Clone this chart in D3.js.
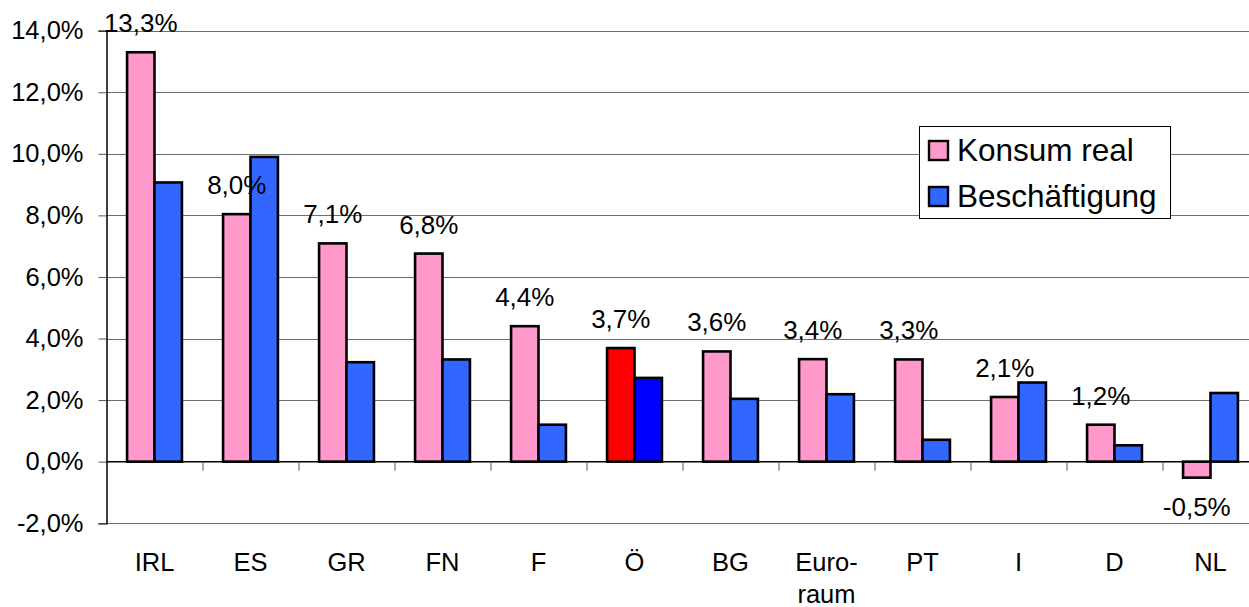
<!DOCTYPE html>
<html>
<head>
<meta charset="utf-8">
<script src="https://cdn.jsdelivr.net/npm/d3@7"></script>
<style>
  body { margin: 0; background: #fff; }
  svg { display: block; font-family: "Liberation Sans", Arial, sans-serif; }
</style>
</head>
<body>
<svg id="plot1" width="1249" height="607"></svg>
<script>
var laender = ['IRL', 'ES', 'GR', 'FN', 'F', 'Ö', 'BG', 'Euro-\nraum', 'PT', 'I', 'D', 'NL'];
var konsum = [13.3, 8.0, 7.1, 6.8, 4.4, 3.7, 3.6, 3.4, 3.3, 2.1, 1.2, -0.5];
var konsumBalken = [13.3, 8.04, 7.09, 6.76, 4.4, 3.69, 3.58, 3.33, 3.32, 2.1, 1.2, -0.52];
var beschaeftigung = [9.07, 9.9, 3.23, 3.32, 1.2, 2.72, 2.04, 2.19, 0.71, 2.57, 0.53, 2.23];
var yTicks = [-2, 0, 2, 4, 6, 8, 10, 12, 14];
var serien = ['Konsum real', 'Beschäftigung'];

var clrs = {'Konsum real': '#FF99CC', 'Beschäftigung': '#3366FF'};
var hervor = {'Konsum real': '#FF0000', 'Beschäftigung': '#0000FF'};

function init() {
    var left = 106.5, top = 30.7, bottom = 523.2;
    var catW = 96;

    var svg = d3.select('#plot1');
    var fmt = function(v) { return v.toFixed(1).replace('.', ',') + '%'; };

    var ys = d3.scaleLinear().domain([-2, 14]).range([bottom, top]);
    var xs = d3.scaleBand().domain(laender).range([left, left + catW * laender.length]).padding(0);
    var grp = catW * 2 / 3.5;
    var x1 = d3.scaleBand().domain(serien).range([(catW - grp) / 2, (catW + grp) / 2]);

    // gridlines
    svg.append('g').selectAll('line')
        .data(yTicks.filter(function(d) { return d != 0; }))
        .enter().append('line')
        .attr('x1', left).attr('x2', 1249)
        .attr('y1', function(d) { return Math.round(ys(d)) + 0.5; })
        .attr('y2', function(d) { return Math.round(ys(d)) + 0.5; })
        .attr('stroke', '#6e6e6e').attr('stroke-width', 1);

    // y axis
    var yAxis = d3.axisLeft(ys).tickValues(yTicks).tickSize(8).tickPadding(15).tickFormat(fmt);
    var ya = svg.append('g').attr('transform', 'translate(' + left + ',0)').call(yAxis);
    ya.select('.domain').attr('stroke', '#000').attr('stroke-width', 1.5);
    ya.selectAll('.tick line').attr('stroke', '#555');
    ya.selectAll('text').attr('font-size', 25.5).attr('fill', '#000')
        .attr('font-family', '"Liberation Sans", Arial, sans-serif');

    // bars
    var rows = laender.map(function(l, i) {
        return [
            {land: l, s: 'Konsum real', v: konsumBalken[i], i: i},
            {land: l, s: 'Beschäftigung', v: beschaeftigung[i], i: i}
        ];
    });
    var g = svg.append('g');
    g.selectAll('g.cat').data(rows).enter().append('g')
        .attr('transform', function(d) { return 'translate(' + xs(d[0].land) + ',0)'; })
        .selectAll('rect').data(function(d) { return d; }).enter().append('rect')
        .attr('x', function(d) { return x1(d.s); })
        .attr('width', x1.bandwidth())
        .attr('y', function(d) { return ys(Math.max(0, d.v)); })
        .attr('height', function(d) { return Math.abs(ys(d.v) - ys(0)); })
        .attr('fill', function(d) { return d.land == 'Ö' ? hervor[d.s] : clrs[d.s]; })
        .attr('stroke', '#000').attr('stroke-width', 2.6);

    // zero line and x ticks
    svg.append('line').attr('x1', left).attr('x2', 1249)
        .attr('y1', ys(0)).attr('y2', ys(0)).attr('stroke', '#000').attr('stroke-width', 1.5);
    svg.append('g').selectAll('line').data(laender.slice(1)).enter().append('line')
        .attr('x1', function(d) { return xs(d) + 0.5; })
        .attr('x2', function(d) { return xs(d) + 0.5; })
        .attr('y1', ys(0)).attr('y2', ys(0) + 9)
        .attr('stroke', '#555').attr('stroke-width', 1);

    // data labels
    svg.append('g').selectAll('text').data(laender).enter().append('text')
        .attr('x', function(d) { return xs(d) + x1('Konsum real') + x1.bandwidth() / 2; })
        .attr('y', function(d, i) {
            var v = konsumBalken[i];
            return v >= 0 ? ys(v) - 20 : ys(v) + 38;
        })
        .attr('text-anchor', 'middle').attr('font-size', 26).attr('fill', '#000')
        .text(function(d, i) { return fmt(konsum[i]); });

    // category labels
    svg.append('g').selectAll('text').data(laender).enter().append('text')
        .attr('x', function(d) { return xs(d) + catW / 2; })
        .attr('y', 571)
        .attr('text-anchor', 'middle').attr('font-size', 25.5).attr('fill', '#000')
        .each(function(d) {
            var t = d3.select(this);
            d.split('\n').forEach(function(p, k) {
                t.append('tspan').attr('x', t.attr('x')).attr('dy', k == 0 ? 0 : 32).text(p);
            });
        });

    // legend
    var lg = svg.append('g');
    lg.append('rect').attr('x', 919.5).attr('y', 126.5).attr('width', 251).attr('height', 92)
        .attr('fill', '#fff').attr('stroke', '#000').attr('stroke-width', 1);
    serien.forEach(function(s, k) {
        lg.append('rect').attr('x', 929).attr('y', 141 + k * 46).attr('width', 19).attr('height', 19)
            .attr('fill', clrs[s]).attr('stroke', '#000').attr('stroke-width', 2.4);
        lg.append('text').attr('x', 957).attr('y', 161 + k * 46)
            .attr('font-size', 31.5).attr('fill', '#000').text(s);
    });
}
init();
</script>
</body>
</html>
